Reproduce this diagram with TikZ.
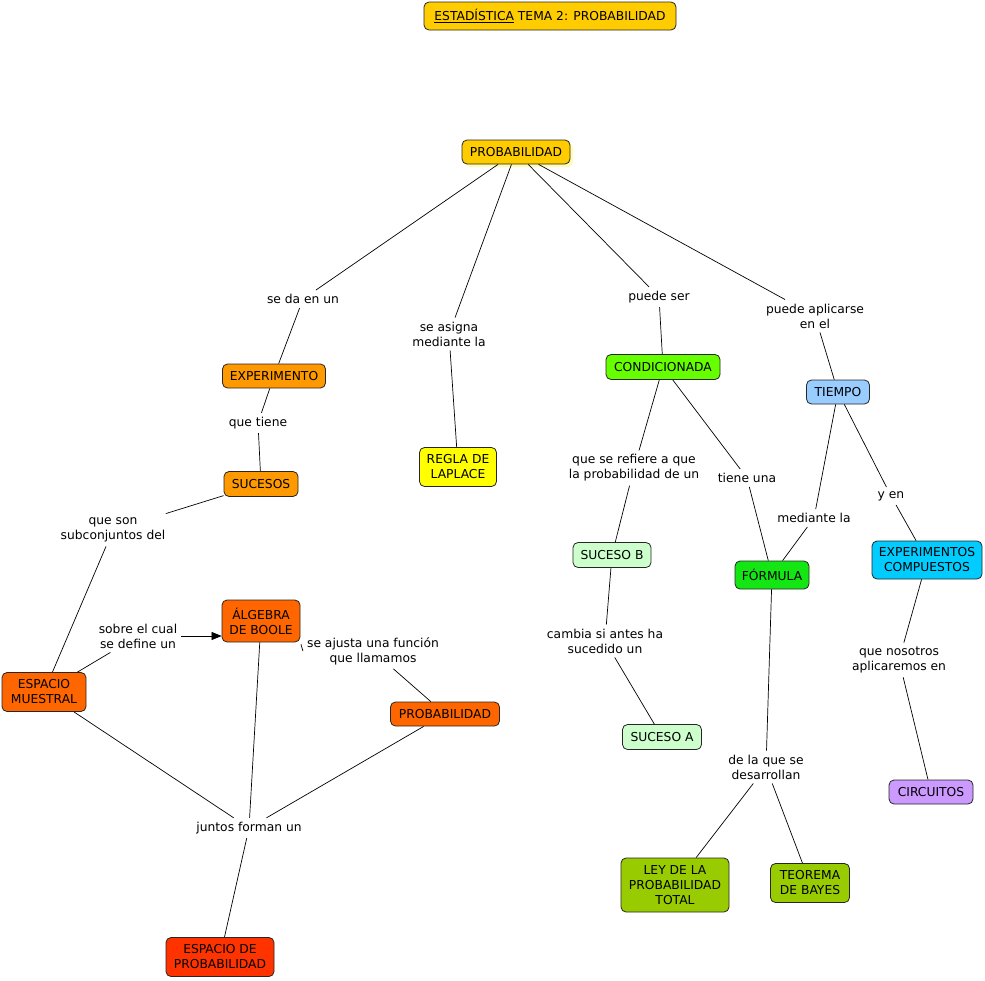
\documentclass[tikz,border=0pt]{standalone}
\usepackage{fontspec}
\setmainfont{DejaVu Sans}
\usetikzlibrary{arrows.meta,shadows}
\definecolor{cgold}{RGB}{255,204,0}
\definecolor{corange}{RGB}{255,153,0}
\definecolor{cred}{RGB}{255,102,0}
\definecolor{cdred}{RGB}{255,51,0}
\definecolor{cyel}{RGB}{255,255,0}
\definecolor{clime}{RGB}{102,255,0}
\definecolor{cgreen}{RGB}{20,230,20}
\definecolor{cpale}{RGB}{204,255,204}
\definecolor{csky}{RGB}{153,204,255}
\definecolor{ccyan}{RGB}{0,204,255}
\definecolor{cpurp}{RGB}{204,153,255}
\definecolor{colive}{RGB}{153,204,0}
\begin{document}
\begin{tikzpicture}[x=1pt,y=-1pt,
  box/.style={draw=black!85,line width=0.8pt,rounded corners=5pt,align=center,
    inner sep=0pt,font=\fontsize{12.3}{15}\selectfont,text=black},
  lab/.style={align=center,inner sep=4pt,font=\fontsize{12.3}{15}\selectfont,text=black},
  conn/.style={draw=black,line width=0.7pt}]
\useasboundingbox (0,0) rectangle (985,980);
% concepts
\node[box,fill=cgold,minimum width=252pt,minimum height=28pt] (title) at (550,16) {\underline{ESTADÍSTICA} TEMA 2: PROBABILIDAD};
\node[box,fill=cgold,minimum width=108pt,minimum height=24pt,
  drop shadow={fill=yellow!55,draw=none,shadow xshift=3pt,shadow yshift=-3pt}] (prob) at (516,152) {PROBABILIDAD};
\node[box,fill=corange,minimum width=103pt,minimum height=24pt] (exp) at (274,376) {EXPERIMENTO};
\node[box,fill=corange,minimum width=74pt,minimum height=25pt] (suc) at (261,484) {SUCESOS};
\node[box,fill=cyel,minimum width=77pt,minimum height=39pt] (regla) at (458,467) {REGLA DE\\LAPLACE};
\node[box,fill=clime,minimum width=114pt,minimum height=25pt] (cond) at (663,367) {CONDICIONADA};
\node[box,fill=csky,minimum width=63pt,minimum height=24pt] (tiempo) at (838,392) {TIEMPO};
\node[box,fill=cpale,minimum width=78pt,minimum height=25pt] (sucb) at (612,555) {SUCESO B};
\node[box,fill=cgreen,minimum width=74pt,minimum height=28pt] (formula) at (772,575) {FÓRMULA};
\node[box,fill=ccyan,minimum width=110pt,minimum height=38pt] (expcomp) at (927,560) {EXPERIMENTOS\\COMPUESTOS};
\node[box,fill=cpale,minimum width=79pt,minimum height=25pt] (suca) at (662,737) {SUCESO A};
\node[box,fill=cpurp,minimum width=84pt,minimum height=24pt] (circ) at (931,792) {CIRCUITOS};
\node[box,fill=colive,minimum width=108pt,minimum height=54pt] (ley) at (675,885) {LEY DE LA\\PROBABILIDAD\\TOTAL};
\node[box,fill=colive,minimum width=79pt,minimum height=39pt] (teo) at (810,883) {TEOREMA\\DE BAYES};
\node[box,fill=cred,minimum width=78pt,minimum height=42pt] (alg) at (261,621) {ÁLGEBRA\\DE BOOLE};
\node[box,fill=cred,minimum width=84pt,minimum height=39pt] (esp) at (44,692) {ESPACIO\\MUESTRAL};
\node[box,fill=cred,minimum width=109pt,minimum height=24pt] (prob2) at (445,714) {PROBABILIDAD};
\node[box,fill=cdred,minimum width=108pt,minimum height=39pt] (espprob) at (220,957) {ESPACIO DE\\PROBABILIDAD};
% linking phrases
\node[lab] (l1) at (303,299) {se da en un};
\node[lab] (l2) at (449,334) {se asigna\\mediante la};
\node[lab] (l3) at (659,297) {puede ser};
\node[lab] (l4) at (815,316) {puede aplicarse\\en el};
\node[lab] (l5) at (258,423) {que tiene};
\node[lab] (l6) at (113,530) {que son\\subconjuntos del};
\node[lab] (l7) at (634,468) {que se refiere a que\\la probabilidad de un};
\node[lab] (l8) at (747,478) {tiene una};
\node[lab] (l9) at (814,518) {mediante la};
\node[lab] (l10) at (891,496) {y en};
\node[lab] (l11) at (605,641) {cambia si antes ha\\sucedido un};
\node[lab] (l12) at (899,660) {que nosotros\\aplicaremos en};
\node[lab] (l13) at (766,767) {de la que se\\desarrollan};
\node[lab] (l14) at (138,636) {sobre el cual\\se define un};
\node[lab] (l15) at (373,651) {se ajusta una función\\que llamamos};
\node[lab] (l16) at (249,828) {juntos forman un};
% connectors
\draw[conn] (prob) -- (l1) -- (exp);
\draw[conn] (prob) -- (l2) -- (regla);
\draw[conn] (prob) -- (l3) -- (cond);
\draw[conn] (prob) -- (l4) -- (tiempo);
\draw[conn] (exp) -- (l5) -- (suc);
\draw[conn] (suc) -- (l6) -- (esp);
\draw[conn] (esp) -- (l14);
\draw[conn,-{Triangle[length=10pt,width=8pt]}] (l14.east) -- (alg.west |- l14.east);
\draw[conn,shorten <=2pt] (alg.south east) -- (l15.west);
\draw[conn] (l15) -- (prob2);
\draw[conn] (esp) -- (l16);
\draw[conn] (alg) -- (l16);
\draw[conn] (prob2) -- (l16);
\draw[conn] (l16) -- (espprob);
\draw[conn] (cond) -- (l7) -- (sucb);
\draw[conn] (cond) -- (l8) -- (formula);
\draw[conn] (tiempo) -- (l9) -- (formula);
\draw[conn] (tiempo) -- (l10) -- (expcomp);
\draw[conn] (sucb) -- (l11) -- (suca);
\draw[conn] (formula) -- (l13);
\draw[conn] (l13) -- (ley);
\draw[conn] (l13) -- (teo);
\draw[conn] (expcomp) -- (l12) -- (circ);
\end{tikzpicture}
\end{document}
